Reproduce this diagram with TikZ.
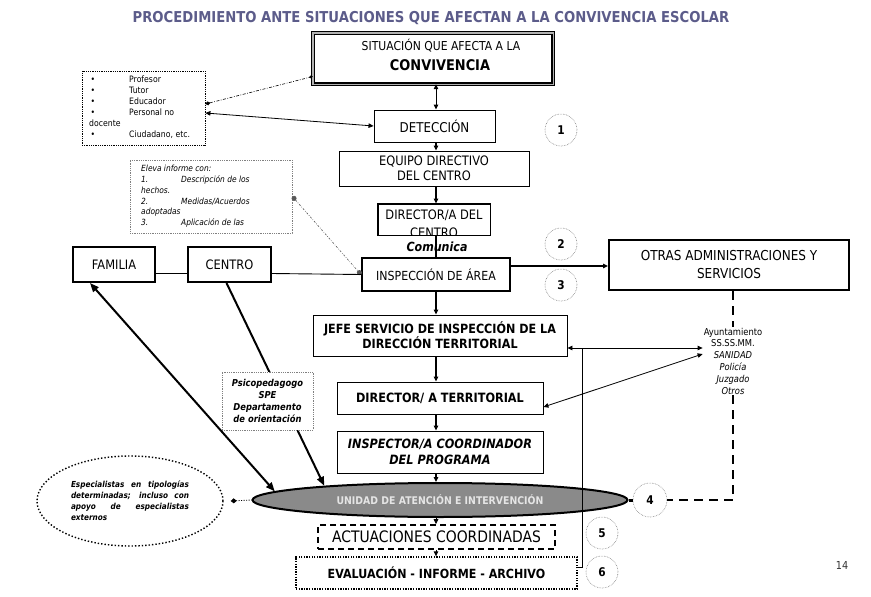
\documentclass[tikz,border=0pt]{standalone}
\usepackage{fontspec}
\setmainfont{DejaVu Sans}[FakeStretch=0.88]
\usetikzlibrary{arrows.meta,shapes.geometric,backgrounds,calc}
\definecolor{titlec}{RGB}{92,92,138}
\definecolor{elgray}{RGB}{138,138,138}
\begin{document}
\begin{tikzpicture}[x=1pt,y=-1pt,
  thinbox/.style={draw, line width=0.9pt, fill=white, inner sep=0pt, align=center},
  thickbox/.style={draw, line width=2pt, fill=white, inner sep=0pt, align=center},
  numc/.style={circle, draw=gray, densely dotted, line width=0.6pt, minimum size=32pt, inner sep=0pt, font=\bfseries\fontsize{12}{14}\selectfont},
  arr/.style={-{Triangle[length=5pt,width=4.5pt]}, line width=1.2pt},
  darr/.style={{Triangle[length=5pt,width=4.5pt]}-{Triangle[length=5pt,width=4.5pt]}, line width=0.8pt},
  bigdash/.style={line width=2.5pt, dash pattern=on 9pt off 6pt},
  bigarr/.style={line width=2pt}
]
\begin{pgfonlayer}{background}
\fill[white] (0,0) rectangle (871,597);
\end{pgfonlayer}
\useasboundingbox (0,0) rectangle (871,597);

% title
\node[font=\bfseries\fontsize{15}{17}\selectfont, text=titlec] (title) at (431,18) {PROCEDIMIENTO ANTE SITUACIONES QUE AFECTAN A LA CONVIVENCIA ESCOLAR};

% top box
\node[minimum width=240pt, minimum height=51pt, inner sep=0pt, fill=white] (sit) at (433,58.5) {};
\draw[line width=3.6pt] (sit.south west) rectangle (sit.north east);
\draw[line width=1.4pt, gray!60] (sit.south west) rectangle (sit.north east);
\node[font=\fontsize{12.3}{14}\selectfont] (sitA) at (441,46) {SITUACIÓN QUE AFECTA A LA};
\node[font=\bfseries\fontsize{14.7}{16}\selectfont] (sitB) at (440,65) {CONVIVENCIA};

% axis
\coordinate (ax) at (436,0);

% main column
\node[thinbox, minimum width=121pt, minimum height=32pt, font=\fontsize{13.5}{16}\selectfont] (det) at (434.5,126) {DETECCIÓN};
\node[thinbox, minimum width=190pt, minimum height=35pt, font=\fontsize{13}{14.5}\selectfont] (equ) at (434,168.5) {EQUIPO DIRECTIVO\\DEL CENTRO};
\node[thinbox, minimum width=112pt, minimum height=31pt] (dir) at (434,219.5) {};
\begin{scope}
\clip (dir.south west) rectangle (dir.north east);
\node[font=\fontsize{13}{15}\selectfont, anchor=base] (dirA) at (434,219) {DIRECTOR/A DEL};
\node[font=\fontsize{13}{15}\selectfont, anchor=base] (dirB) at (434,237) {CENTRO};
\end{scope}
\draw[line width=0.9pt] (dir.south west) rectangle (dir.north east);

\node[thickbox, minimum width=148pt, minimum height=33pt, font=\fontsize{12.5}{15}\selectfont] (insp) at (436,274.5) {INSPECCIÓN DE ÁREA};
\node[thickbox, minimum width=82pt, minimum height=35pt, font=\fontsize{13}{15}\selectfont] (fam) at (114,264.5) {FAMILIA};
\node[thickbox, minimum width=83pt, minimum height=35pt, font=\fontsize{13}{15}\selectfont] (cen) at (229.5,264.5) {CENTRO};
\node[thickbox, minimum width=240pt, minimum height=50pt, font=\fontsize{13.7}{18}\selectfont] (otras) at (729,265) {OTRAS ADMINISTRACIONES Y\\SERVICIOS};

\node[thinbox, minimum width=254pt, minimum height=41pt, font=\bfseries\fontsize{12.7}{15}\selectfont] (jefe) at (440,335.5) {JEFE SERVICIO DE INSPECCIÓN DE LA\\DIRECCIÓN TERRITORIAL};
\node[thinbox, minimum width=206pt, minimum height=32pt, font=\bfseries\fontsize{12.8}{14}\selectfont] (dirt) at (440,398) {DIRECTOR/ A TERRITORIAL};
\node[thinbox, minimum width=206pt, minimum height=42pt, font=\bfseries\itshape\fontsize{12.8}{16}\selectfont] (inspc) at (440,452) {INSPECTOR/A COORDINADOR\\DEL PROGRAMA};

\node[ellipse, draw, line width=2pt, fill=elgray, minimum width=375pt, minimum height=34pt, inner sep=0pt, text=white!90!black, font=\bfseries\fontsize{10.6}{12}\selectfont] (un) at (440,500) {UNIDAD DE ATENCIÓN E INTERVENCIÓN};

\node[draw, line width=1.6pt, dash pattern=on 6pt off 4pt, fill=white, minimum width=237pt, minimum height=24pt, inner sep=0pt, font=\fontsize{15.8}{17}\selectfont] (act) at (436.5,537) {ACTUACIONES COORDINADAS};
\node[draw, line width=1.3pt, dash pattern=on 1.3pt off 1.3pt, fill=white, minimum width=281pt, minimum height=32pt, inner sep=0pt, font=\bfseries\fontsize{12.6}{14}\selectfont] (eval) at (436.5,573) {EVALUACIÓN - INFORME - ARCHIVO};

% numbered circles
\node[numc] (c1) at (561,130) {1};
\node[numc] (c2) at (561,244) {2};
\node[numc] (c3) at (561,285) {3};
\node[numc, minimum size=34pt] (c4) at (650,500) {4};
\node[numc] (c5) at (602,533) {5};
\node[numc] (c6) at (602,572) {6};

% side boxes
\node[draw, densely dotted, line width=0.8pt, minimum width=123pt, minimum height=74pt, inner sep=0pt] (list) at (143.5,108) {};
\node[anchor=north west, align=left, inner sep=0pt, font=\fontsize{8.8}{11}\selectfont] (listtxt) at (89,76)
 {\makebox[40pt][l]{\,•}Profesor\\\makebox[40pt][l]{\,•}Tutor\\\makebox[40pt][l]{\,•}Educador\\\makebox[40pt][l]{\,•}Personal no\\docente\\\makebox[40pt][l]{\,•}Ciudadano, etc.};

\node[draw=gray, densely dotted, line width=0.8pt, minimum width=162pt, minimum height=73pt, inner sep=0pt] (eleva) at (211,196.5) {};
\node[anchor=north west, align=left, inner sep=0pt, font=\itshape\fontsize{8.5}{10.8}\selectfont] (elevatxt) at (141,165)
 {Eleva informe con:\\\makebox[40pt][l]{1.}Descripción de los\\hechos.\\\makebox[40pt][l]{2.}Medidas/Acuerdos\\adoptadas\\\makebox[40pt][l]{3.}Aplicación de las};

\node[draw=gray, densely dotted, line width=0.8pt, fill=white, minimum width=91pt, minimum height=58pt, inner sep=0pt, align=center, font=\bfseries\itshape\fontsize{9.5}{12}\selectfont] (psico) at (267.5,401) {Psicopedagogo\\SPE\\Departamento\\de orientación};

\node[ellipse, draw, dotted, line width=1.4pt, minimum width=186pt, minimum height=90pt, inner sep=0pt] (esp) at (130,501) {};
\node[align=left, inner sep=0pt, font=\bfseries\itshape\fontsize{8.3}{11}\selectfont] (esptxt) at (130,501)
 {\makebox[118pt][s]{Especialistas en tipologías}\\\makebox[118pt][s]{determinadas; incluso con}\\\makebox[118pt][s]{apoyo de especialistas}\\externos};

\node[align=center, inner sep=1pt, font=\fontsize{9.5}{11.8}\selectfont] (ayu) at (733,361)
 {Ayuntamiento\\SS.SS.MM.\\\textit{SANIDAD}\\\textit{Policía}\\\textit{Juzgado}\\\textit{Otros}};

\node[font=\fontsize{11}{13}\selectfont, text=black!80] (pg) at (842,565) {14};

% connectors main axis
\draw[darr, line width=1pt] (ax |- sit.south) -- (ax |- det.north);
\draw[arr] (ax |- det.south) -- (ax |- equ.north);
\draw[arr] (ax |- equ.south) -- (ax |- dir.north);
\draw[line width=1.2pt] (ax |- dir.south) -- (ax |- insp.north);
\node[font=\bfseries\itshape\fontsize{12.6}{14}\selectfont] (com) at (437,247) {Comunica};
\draw[arr] (ax |- insp.south) -- (ax |- jefe.north);
\draw[arr] (ax |- jefe.south) -- (ax |- dirt.north);
\draw[arr] (ax |- dirt.south) -- (ax |- inspc.north);
\draw[arr] (ax |- inspc.south) -- (ax |- un.north);
\draw[arr, line width=1pt] (ax |- un.south) -- (ax |- act.north);
\draw[arr, line width=1pt] (ax |- act.south) -- (ax |- eval.north);

% side connectors
\draw[line width=0.6pt, dash pattern=on 3pt off 1.5pt on 0.8pt off 1.5pt, {Diamond[length=5pt,width=4pt]}-{Diamond[length=4pt,width=3pt]}] ([yshift=4pt]list.east) -- ([yshift=-18pt]sit.west);
\draw[darr] ([yshift=-5pt]list.east) -- (det.west);
\draw[line width=0.6pt, gray!70!black, dash pattern=on 2pt off 1.5pt on 0.6pt off 1.5pt, {Circle[length=5pt]}-{Circle[length=5pt]}] (eleva.east) -- (insp.west);
\draw[line width=0.9pt] ([yshift=-9pt]fam.east) -- ([yshift=-9pt]cen.west);
\draw[line width=0.9pt] ([yshift=-9pt]cen.east) -- (insp.west);
\draw[arr, line width=1.3pt] ([yshift=8.5pt]insp.east) -- ([yshift=8.5pt]insp.east -| otras.west);

\draw[bigdash] ([xshift=4pt]otras.south) -- ([xshift=4pt]otras.south |- ayu.north);
\draw[bigdash] (ayu.south) |- (c4.east);

\coordinate (jn) at (582,348);
\draw[arr, line width=0.8pt] (jn) -- (jefe.east |- jn);
\draw[arr, line width=0.8pt] (jn) -- (jn -| ayu.west);
\draw[line width=0.8pt] (jn) |- ([yshift=6pt]eval.east);
\draw[darr] ([yshift=-9pt]dirt.east) -- ([yshift=7pt]ayu.west);

\draw[bigarr, {Triangle[length=9pt,width=7pt]}-{Triangle[length=9pt,width=7pt]}] ([xshift=-24pt]fam.south) -- (un.177.6);
\begin{pgfonlayer}{background}
\draw[bigarr, -{Triangle[length=9pt,width=7pt]}] ([xshift=-3pt]cen.south) -- (un.173);
\end{pgfonlayer}

\draw[line width=0.8pt, dash pattern=on 1pt off 1.5pt, {Diamond[length=6pt,width=5pt]}-] ([xshift=7pt]esp.east) -- (un.west);
\draw[line width=3pt] (un.east) -- (c4.west);
\end{tikzpicture}
\end{document}
